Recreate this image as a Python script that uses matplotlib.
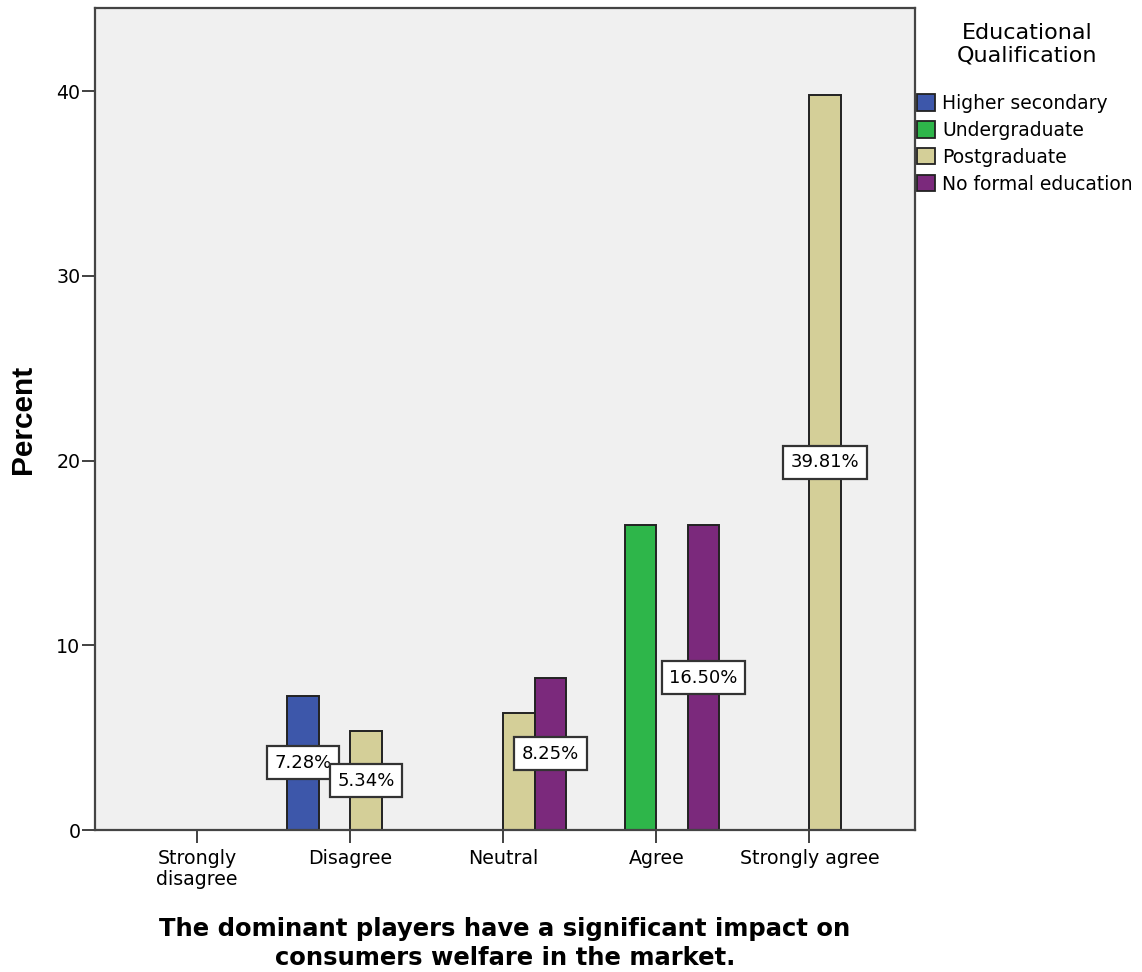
import numpy as np
import matplotlib
matplotlib.use("Agg")
import matplotlib.pyplot as plt

plt.rcParams['font.family'] = ['DejaVu Sans']

categories = ["Strongly\ndisagree", "Disagree", "Neutral", "Agree", "Strongly agree"]
groups = ["Higher secondary", "Undergraduate", "Postgraduate", "No formal education"]
colors = ["#3D57AA", "#2EB64A", "#D4CF98", "#7B297C"]

higher_secondary = [0, 7.28, 0, 0, 0]
undergraduate = [0, 0, 0, 16.50, 0]
postgraduate = [0, 5.34, 6.31, 0, 39.81]
no_formal = [0, 0, 8.25, 16.50, 0]
series = [higher_secondary, undergraduate, postgraduate, no_formal]

# which bars carry a value box (group index, category index)
labelled = [(0, 1), (2, 1), (3, 2), (3, 3), (2, 4)]

W, H = 1142, 972
fig = plt.figure(figsize=(W / 100, H / 100), dpi=100)
ax = fig.add_axes([95 / W, 1 - 830 / H, 820 / W, 822 / H])
ax.set_facecolor("#F0F0F0")

x = np.arange(len(categories))
w = 0.206
offsets = (np.arange(len(groups)) - 1.5) * w

for gi, vals in enumerate(series):
    vals = np.array(vals, dtype=float)
    mask = vals > 0
    ax.bar(x[mask] + offsets[gi], vals[mask], width=w, color=colors[gi],
           edgecolor="#222222", linewidth=1.4, zorder=2)

for gi, ci in labelled:
    v = series[gi][ci]
    ax.text(x[ci] + offsets[gi], v / 2, f"{v:.2f}%", ha="center", va="center",
            fontsize=13, zorder=4,
            bbox=dict(boxstyle="square,pad=0.42", facecolor="white",
                      edgecolor="#333333", linewidth=1.6))

ax.set_xlim(-0.667, 4.69)
ax.set_ylim(0, 44.5)
ax.set_yticks([0, 10, 20, 30, 40])
ax.set_xticks(x)
ax.set_xticklabels(categories, fontsize=13.7, linespacing=1.15)
ax.tick_params(axis="y", labelsize=13.7, length=9.5, width=1.3, color="#333333", pad=1)
ax.tick_params(axis="x", length=9.5, width=1.3, color="#333333", pad=4)

for s in ax.spines.values():
    s.set_color("#444444")
    s.set_linewidth(1.6)

ax.set_ylabel("Percent", fontsize=21.5, fontweight="bold", family="Liberation Sans", labelpad=14)
ax.set_xlabel("The dominant players have a significant impact on\nconsumers welfare in the market.",
              fontsize=17.5, fontweight="bold", linespacing=1.3, labelpad=20)

# legend title drawn separately so the gap to the entries matches
fig.text(1027 / W, 1 - 23 / H, "Educational\nQualification", ha="center", va="top",
         fontsize=16, linespacing=1.13)

handles = [plt.Rectangle((0, 0), 1, 1, facecolor=c, edgecolor="#222222", linewidth=1.3) for c in colors]
leg = fig.legend(handles, groups, loc="upper left", bbox_to_anchor=(917 / W, 1 - 94 / H),
                 frameon=False, fontsize=13.5, handlelength=0.95, handleheight=0.95,
                 handletextpad=0.4, labelspacing=0.42, borderpad=0, borderaxespad=0)

fig.savefig("out.png", dpi=100)
